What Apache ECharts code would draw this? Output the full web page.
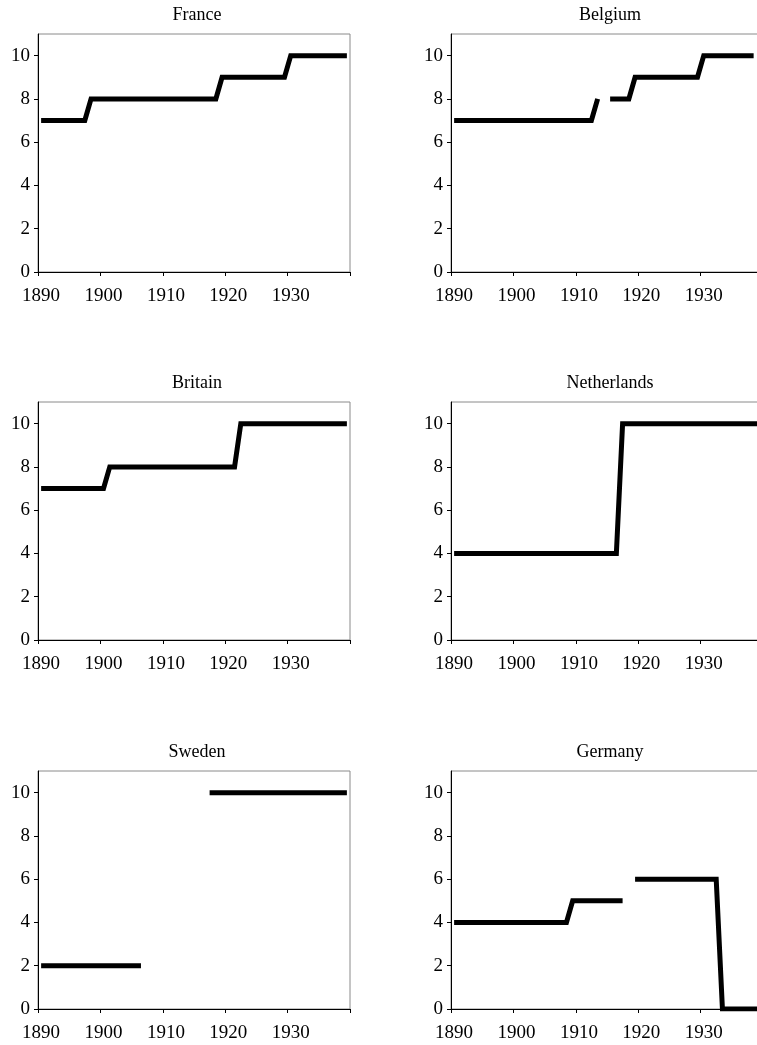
<!DOCTYPE html>
<html>
<head>
<meta charset="utf-8">
<script src="https://cdn.jsdelivr.net/npm/echarts@6/dist/echarts.min.js"></script>
<style>
html,body{margin:0;padding:0;background:#fff;}
#chart{width:757px;height:1045px;}
</style>
</head>
<body>
<div id="chart"></div>
<script>
// Categories: years 1890..1939
const years = ['1890','1891','1892','1893','1894','1895','1896','1897','1898','1899',
  '1900','1901','1902','1903','1904','1905','1906','1907','1908','1909',
  '1910','1911','1912','1913','1914','1915','1916','1917','1918','1919',
  '1920','1921','1922','1923','1924','1925','1926','1927','1928','1929',
  '1930','1931','1932','1933','1934','1935','1936','1937','1938','1939'];
const yTicks = [0, 2, 4, 6, 8, 10];
const countries = ['France', 'Belgium', 'Britain', 'Netherlands', 'Sweden', 'Germany'];
const N = null;
const france = [7,7,7,7,7,7,7,7,8,8, 8,8,8,8,8,8,8,8,8,8, 8,8,8,8,8,8,8,8,8,9, 9,9,9,9,9,9,9,9,9,9, 10,10,10,10,10,10,10,10,10,10];
const belgium = [7,7,7,7,7,7,7,7,7,7, 7,7,7,7,7,7,7,7,7,7, 7,7,7,8,N,8,8,8,8,9, 9,9,9,9,9,9,9,9,9,9, 10,10,10,10,10,10,10,10,10,N];
const britain = [7,7,7,7,7,7,7,7,7,7, 7,8,8,8,8,8,8,8,8,8, 8,8,8,8,8,8,8,8,8,8, 8,8,10,10,10,10,10,10,10,10, 10,10,10,10,10,10,10,10,10,10];
const netherlands = [4,4,4,4,4,4,4,4,4,4, 4,4,4,4,4,4,4,4,4,4, 4,4,4,4,4,4,4,10,10,10, 10,10,10,10,10,10,10,10,10,10, 10,10,10,10,10,10,10,10,10,10];
const sweden = [2,2,2,2,2,2,2,2,2,2, 2,2,2,2,2,2,2,N,N,N, N,N,N,N,N,N,N,10,10,10, 10,10,10,10,10,10,10,10,10,10, 10,10,10,10,10,10,10,10,10,10];
const germany = [4,4,4,4,4,4,4,4,4,4, 4,4,4,4,4,4,4,4,4,5, 5,5,5,5,5,5,5,5,N,6, 6,6,6,6,6,6,6,6,6,6, 6,6,6,0,0,0,0,0,0,0];
const seriesData = [france, belgium, britain, netherlands, sweden, germany];

const FONT = 'Liberation Serif, Times New Roman, serif';
const colLeft = [38, 451];
const plotW = 312;
const rowTop = [34, 402, 771];
const plotH = 238;

const grids = [], xAxes = [], yAxes = [], series = [], titles = [];
for (let i = 0; i < 6; i++) {
  const c = i % 2, r = Math.floor(i / 2);
  grids.push({
    left: colLeft[c], top: rowTop[r], width: plotW, height: plotH,
    outerBoundsMode: 'none', containLabel: false,
    show: true, borderColor: '#8a8a8a', borderWidth: 1, backgroundColor: 'transparent'
  });
  xAxes.push({
    type: 'category', gridIndex: i, data: years, boundaryGap: true,
    axisLine: { show: true, lineStyle: { color: '#000', width: 1 } },
    axisTick: { show: true, interval: 9, length: 4, inside: false, lineStyle: { color: '#000' } },
    axisLabel: { interval: 9, color: '#000', fontFamily: FONT, fontSize: 19, margin: 15 },
    splitLine: { show: false }
  });
  yAxes.push({
    type: 'value', gridIndex: i, min: 0, max: 11, interval: 2,
    axisLine: { show: true, lineStyle: { color: '#000', width: 1 } },
    axisTick: { show: true, length: 4, inside: false, customValues: yTicks, lineStyle: { color: '#000' } },
    axisLabel: { color: '#000', fontFamily: FONT, fontSize: 19, margin: 8, customValues: yTicks },
    splitLine: { show: false }
  });
  series.push({
    type: 'line', xAxisIndex: i, yAxisIndex: i, data: seriesData[i],
    showSymbol: false, symbol: 'none', connectNulls: false, silent: true,
    lineStyle: { color: '#000', width: 5, join: 'miter', cap: 'butt' },
    animation: false
  });
  titles.push({
    text: countries[i], left: colLeft[c] + plotW / 2 - 2, top: rowTop[r] - 33, textAlign: 'center',
    textStyle: { fontFamily: FONT, fontSize: 18, fontWeight: 'normal', color: '#000' }
  });
}

const chart = echarts.init(document.getElementById('chart'), null, { renderer: 'canvas' });
chart.setOption({
  animation: false,
  backgroundColor: '#fff',
  title: titles,
  grid: grids,
  xAxis: xAxes,
  yAxis: yAxes,
  series: series
});
</script>
</body>
</html>
